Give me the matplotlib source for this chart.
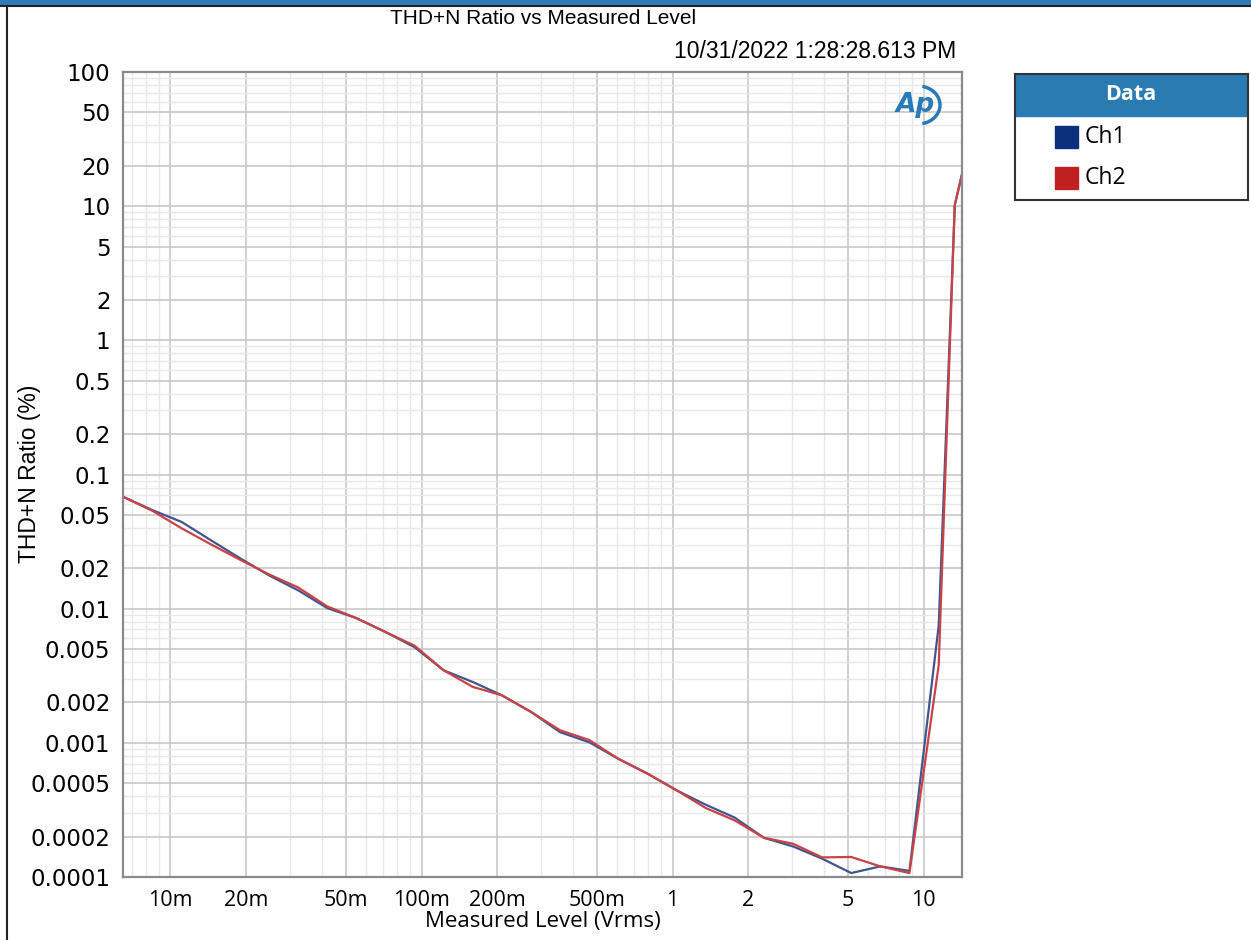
import numpy as np
import matplotlib
matplotlib.use('Agg')
from matplotlib import pyplot as plt
from matplotlib.patches import Rectangle, Arc
from matplotlib.ticker import FixedLocator, NullFormatter

# measured level (Vrms)
level = [0.0065, 0.00849, 0.01108, 0.01447, 0.0189, 0.02469, 0.03224, 0.0421,
         0.05498, 0.07181, 0.09378, 0.1225, 0.16, 0.2089, 0.2728, 0.3563,
         0.4653, 0.6076, 0.7935, 1.036, 1.353, 1.767, 2.308, 3.015, 3.937,
         5.142, 6.715, 8.77, 11.47, 13.29, 14.17]

# THD+N ratio (%)
ch1 = [0.068, 0.0542, 0.0443, 0.0324, 0.0238, 0.0177, 0.0137, 0.0101,
       0.0085, 0.0067, 0.00516, 0.00347, 0.00284, 0.00226, 0.0017, 0.0012,
       0.00101, 0.00076, 0.00059, 0.000443, 0.000346, 0.000277, 0.000196,
       0.000169, 0.000137, 0.000107, 0.00012, 0.000111, 0.0075, 10.2, 17.0]
ch2 = [0.068, 0.0535, 0.0397, 0.0302, 0.0232, 0.018, 0.0144, 0.0104,
       0.0085, 0.0067, 0.0053, 0.00347, 0.00261, 0.00226, 0.0017, 0.00124,
       0.00105, 0.00076, 0.00059, 0.000443, 0.000327, 0.000264, 0.000196,
       0.000177, 0.00014, 0.000141, 0.00012, 0.000107, 0.00379, 10.2, 17.0]

x_major = [0.01, 0.02, 0.05, 0.1, 0.2, 0.5, 1, 2, 5, 10]
x_labels = ['10m', '20m', '50m', '100m', '200m', '500m', '1', '2', '5', '10']
y_major = [100, 50, 20, 10, 5, 2, 1, 0.5, 0.2, 0.1, 0.05, 0.02, 0.01, 0.005,
           0.002, 0.001, 0.0005, 0.0002, 0.0001]
y_labels = ['100', '50', '20', '10', '5', '2', '1', '0.5', '0.2', '0.1', '0.05',
            '0.02', '0.01', '0.005', '0.002', '0.001', '0.0005', '0.0002', '0.0001']

W, H = 1251, 940
fig = plt.figure(figsize=(W / 100, H / 100), dpi=100)
fig.patch.set_facecolor('white')

def fx(px):
    return px / W

def fy(py):
    return 1 - py / H

ax = fig.add_axes([fx(123), fy(877), fx(962) - fx(123), fy(72) - fy(877)])
ax.set_xscale('log')
ax.set_yscale('log')
ax.set_xlim(0.00647, 14.2)
ax.set_ylim(0.0001, 100)

# grid: 1,2,5 darker, the rest lighter
minor = []
for d in range(-3, 2):
    for m in [3, 4, 6, 7, 8, 9]:
        minor.append(m * 10.0 ** d)
ax.xaxis.set_major_locator(FixedLocator(x_major))
ax.xaxis.set_minor_locator(FixedLocator(minor))
ax.set_xticklabels(x_labels)
ax.xaxis.set_minor_formatter(NullFormatter())
yminor = []
for d in range(-4, 2):
    for m in [3, 4, 6, 7, 8, 9]:
        yminor.append(m * 10.0 ** d)
ax.yaxis.set_major_locator(FixedLocator(y_major))
ax.yaxis.set_minor_locator(FixedLocator(yminor))
ax.set_yticklabels(y_labels)
ax.yaxis.set_minor_formatter(NullFormatter())
ax.grid(which='major', color='#c4c4c4', lw=1.1)
ax.grid(which='minor', color='#e8e8e8', lw=1.0)
ax.set_axisbelow(True)
ax.tick_params(which='both', length=0)
ax.tick_params(axis='x', pad=9, labelsize=15.5)
ax.tick_params(axis='y', pad=9, labelsize=16.5)
for lbl in ax.get_xticklabels():
    lbl.set_family('Open Sans')
for lbl in ax.get_yticklabels():
    lbl.set_family('DejaVu Sans')
for s in ax.spines.values():
    s.set_color('#8a8a8a')
    s.set_linewidth(1.6)

ax.plot(level, ch1, color='#41558f', lw=1.6)
ax.plot(level, ch2, color='#c94346', lw=1.6)

fig.text(fx(543), fy(921), 'Measured Level (Vrms)', ha='center', va='center',
         fontsize=16, family='Open Sans')
fig.text(fx(30), fy(474), 'THD+N Ratio (%)', ha='center', va='center', rotation=90,
         fontsize=16.5, family='Liberation Sans')

fig.text(fx(543), fy(19), 'THD+N Ratio vs Measured Level', ha='center', va='center',
         fontsize=15, family='Liberation Sans')
fig.text(fx(956), fy(52), '10/31/2022 1:28:28.613 PM', ha='right', va='center',
         fontsize=16.5, family='Liberation Sans')

# AP logo
fig.text(fx(915), fy(105), 'Ap', ha='center', va='center', fontsize=19,
         style='italic', weight='bold', color='#2a7ab8', family='DejaVu Sans')
ax.add_patch(Arc((fx(918), fy(105)), fx(44), fy(0) - fy(38), theta1=-80, theta2=80,
                 transform=fig.transFigure, color='#2a7ab8', lw=2.5))

# window frame
fig.add_artist(Rectangle((0, fy(5)), 1, fy(0) - fy(5), transform=fig.transFigure,
                         color='#2d7db8'))
fig.add_artist(plt.Line2D([0, 1], [fy(6), fy(6)], transform=fig.transFigure,
                          color='#222222', lw=1.5))
fig.add_artist(plt.Line2D([fx(7), fx(7)], [0, fy(6)], transform=fig.transFigure,
                          color='#222222', lw=1.5))

# legend box
lg = fig.add_axes([fx(1015), fy(200), fx(1248) - fx(1015), fy(74) - fy(200)])
lg.set_xlim(0, 233)
lg.set_ylim(126, 0)
lg.set_xticks([])
lg.set_yticks([])
for s in lg.spines.values():
    s.set_color('#333333')
    s.set_linewidth(1.5)
lg.add_patch(Rectangle((0, 0), 233, 42, color='#2b7bb3'))
lg.text(116, 21, 'Data', ha='center', va='center', color='white', fontsize=15.5,
        weight='bold', family='Open Sans')
names = ['Ch1', 'Ch2']
swatch = ['#0b2f7a', '#c0201f']
for i in range(2):
    yc = 63 + i * 41
    lg.add_patch(Rectangle((40, yc - 11), 23, 22, color=swatch[i]))
    lg.text(70, yc, names[i], ha='left', va='center', fontsize=16.5, family='Open Sans')

fig.savefig('out.png', dpi=100)
